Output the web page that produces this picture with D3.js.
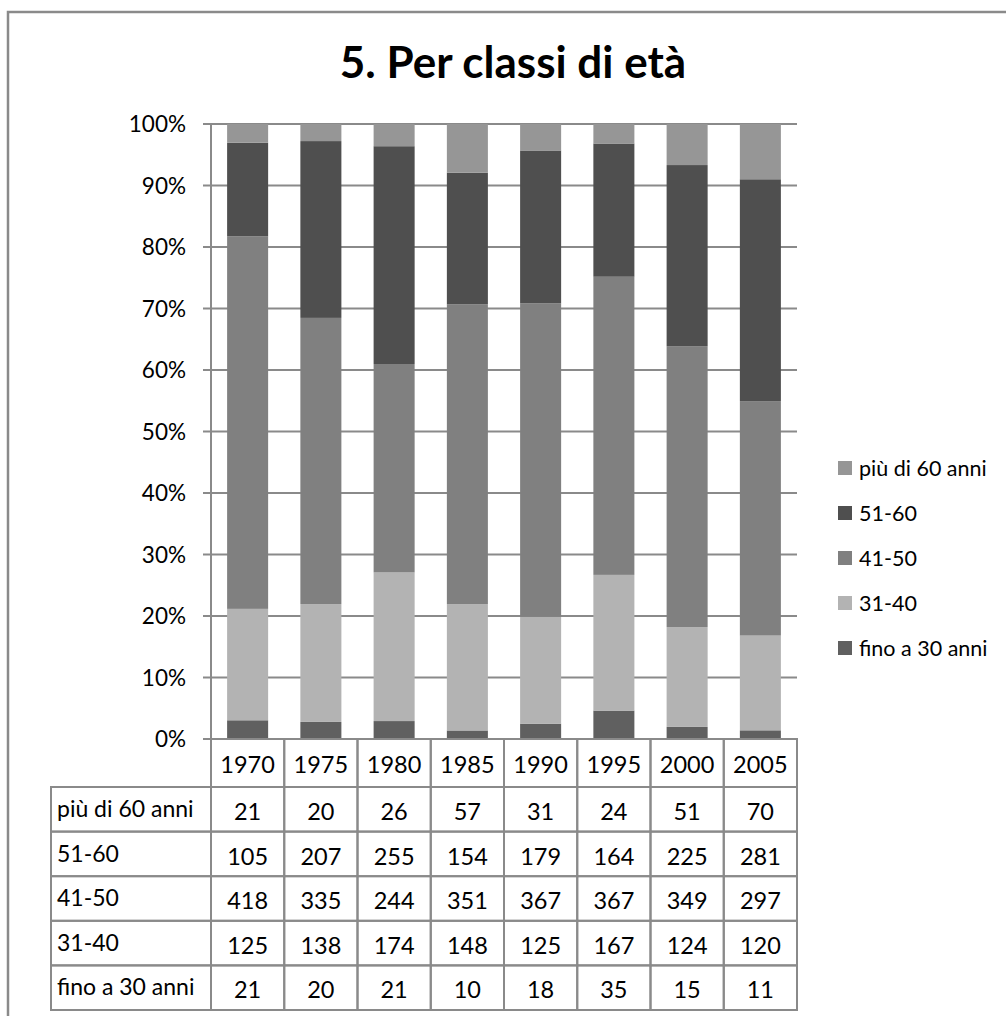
<!DOCTYPE html>
<html>
<head>
<meta charset="utf-8">
<script src="https://cdn.jsdelivr.net/npm/d3@7"></script>
<style>
  body { margin: 0; background: #fff; }
  text { font-family: Lato, "Open Sans", sans-serif; fill: #000; }
</style>
</head>
<body>
<script>
  // data
  var years = ['1970', '1975', '1980', '1985', '1990', '1995', '2000', '2005'];
  var seriesNames = ['fino a 30 anni', '31-40', '41-50', '51-60', 'più di 60 anni'];
  var fino30 = [21, 20, 21, 10, 18, 35, 15, 11];
  var eta3140 = [125, 138, 174, 148, 125, 167, 124, 120];
  var eta4150 = [418, 335, 244, 351, 367, 367, 349, 297];
  var eta5160 = [105, 207, 255, 154, 179, 164, 225, 281];
  var oltre60 = [21, 20, 26, 57, 31, 24, 51, 70];
  var yTicks = [0, 0.1, 0.2, 0.3, 0.4, 0.5, 0.6, 0.7, 0.8, 0.9, 1];

  var seriesValues = [fino30, eta3140, eta4150, eta5160, oltre60];
  var colors = ['#606060', '#b3b3b3', '#808080', '#4f4f4f', '#969696'];
  var lineCol = '#8a8a8a';

  var rows = years.map(function (y, i) {
    var r = { year: y };
    seriesNames.forEach(function (s, k) { r[s] = seriesValues[k][i]; });
    return r;
  });

  var svg = d3.select('body').append('svg')
    .attr('width', 1006)
    .attr('height', 1016);

  // outer frame (only top and left are inside the picture)
  svg.append('path')
    .attr('d', 'M 8,1016 L 8,12 L 1006,12')
    .attr('fill', 'none')
    .attr('stroke', lineCol)
    .attr('stroke-width', 2.5);

  svg.append('text')
    .attr('x', 513)
    .attr('y', 78)
    .attr('text-anchor', 'middle')
    .style('font-size', '44px')
    .style('font-weight', 'bold')
    .text('5. Per classi di età');

  var x = d3.scaleBand().domain(years).range([211, 797]).paddingInner(0.44).paddingOuter(0.22);
  var xCol = d3.scaleBand().domain(years).range([211, 797]);
  var y = d3.scaleLinear().domain([0, 1]).range([739, 124]);

  // gridlines + ticks
  svg.append('g').selectAll('line')
    .data(yTicks)
    .enter()
    .append('line')
    .attr('x1', 203)
    .attr('x2', 797)
    .attr('y1', function (d) { return y(d); })
    .attr('y2', function (d) { return y(d); })
    .attr('stroke', lineCol)
    .attr('stroke-width', 2);

  svg.append('g').selectAll('text')
    .data(yTicks)
    .enter()
    .append('text')
    .attr('x', 186)
    .attr('y', function (d) { return y(d) + 8; })
    .attr('text-anchor', 'end')
    .style('font-size', '22.5px')
    .text(function (d) { return d3.format('.0%')(d); });

  var stack = d3.stack().keys(seriesNames).offset(d3.stackOffsetExpand);
  var layers = stack(rows);

  svg.append('g').selectAll('g')
    .data(layers)
    .enter()
    .append('g')
    .attr('fill', function (d, i) { return colors[i]; })
    .selectAll('rect')
    .data(function (d) { return d; })
    .enter()
    .append('rect')
    .attr('x', function (d) { return x(d.data.year); })
    .attr('width', x.bandwidth())
    .attr('y', function (d) { return y(d[1]); })
    .attr('height', function (d) { return y(d[0]) - y(d[1]); });

  // y axis line
  svg.append('line')
    .attr('x1', 211).attr('x2', 211)
    .attr('y1', 124).attr('y2', 739)
    .attr('stroke', lineCol)
    .attr('stroke-width', 2);

  // data table
  var tableOrder = seriesNames.slice().reverse();
  var rowY = d3.scaleBand().domain(tableOrder).range([787, 1010]);
  var tbl = svg.append('g');

  // year header cells
  tbl.selectAll('rect.hdr')
    .data(years)
    .enter()
    .append('rect')
    .attr('class', 'hdr')
    .attr('x', function (d) { return xCol(d); })
    .attr('y', 739)
    .attr('width', xCol.bandwidth())
    .attr('height', 787 - 739)
    .attr('fill', 'none')
    .attr('stroke', lineCol)
    .attr('stroke-width', 2);

  tbl.selectAll('text.hdr')
    .data(years)
    .enter()
    .append('text')
    .attr('class', 'hdr')
    .attr('x', function (d) { return xCol(d) + xCol.bandwidth() / 2; })
    .attr('y', 773)
    .attr('text-anchor', 'middle')
    .style('font-size', '23.5px')
    .text(function (d) { return d; });

  tableOrder.forEach(function (s) {
    var k = seriesNames.indexOf(s);
    tbl.append('rect')
      .attr('x', 51)
      .attr('y', rowY(s))
      .attr('width', 211 - 51)
      .attr('height', rowY.bandwidth())
      .attr('fill', 'none')
      .attr('stroke', lineCol)
      .attr('stroke-width', 2);
    tbl.append('text')
      .attr('x', 57)
      .attr('y', rowY(s) + 30)
      .style('font-size', '23px')
      .text(s);
    years.forEach(function (yr, i) {
      tbl.append('rect')
        .attr('x', xCol(yr))
        .attr('y', rowY(s))
        .attr('width', xCol.bandwidth())
        .attr('height', rowY.bandwidth())
        .attr('fill', 'none')
        .attr('stroke', lineCol)
        .attr('stroke-width', 2);
      tbl.append('text')
        .attr('x', xCol(yr) + xCol.bandwidth() / 2)
        .attr('y', rowY(s) + 33)
        .attr('text-anchor', 'middle')
        .style('font-size', '23.5px')
        .text(seriesValues[k][i]);
    });
  });

  // legend
  var legY = d3.scalePoint().domain(tableOrder).range([468, 648]);
  var leg = svg.append('g').selectAll('g')
    .data(tableOrder)
    .enter()
    .append('g')
    .attr('transform', function (d) { return 'translate(838,' + legY(d) + ')'; });

  leg.append('rect')
    .attr('x', 0).attr('y', -7)
    .attr('width', 14).attr('height', 14)
    .attr('fill', function (d) { return colors[seriesNames.indexOf(d)]; });

  leg.append('text')
    .attr('x', 21)
    .attr('y', 8)
    .style('font-size', '21.5px')
    .text(function (d) { return d; });
</script>
</body>
</html>
